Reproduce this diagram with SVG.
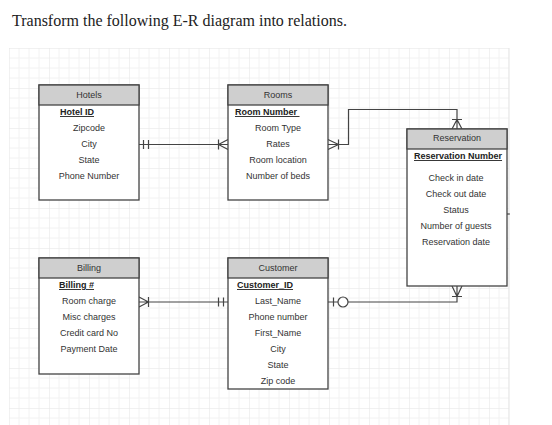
<svg xmlns="http://www.w3.org/2000/svg" width="552" height="425" viewBox="0 0 552 425">
<style>
.title{font-family:"Liberation Serif","Times New Roman",serif;font-size:16px;fill:#222}
.t{font-family:"Liberation Sans",Arial,sans-serif;font-size:9px;fill:#333;text-anchor:middle}
.k{font-family:"Liberation Sans",Arial,sans-serif;font-size:9px;fill:#222;font-weight:bold;text-decoration:underline}
.box{fill:#fff;stroke:#444;stroke-width:1.3}
.hd{fill:#cfcfcf;stroke:#444;stroke-width:1.3}
.c{fill:none;stroke:#444;stroke-width:1.2}
</style>
<defs>
<pattern id="grid" patternUnits="userSpaceOnUse" x="9" y="48" width="40" height="40">
<path d="M10 0V40M20 0V40M30 0V40M0 10H40M0 20H40M0 30H40" stroke="#f2f2f2" stroke-width="1" fill="none"/>
<path d="M0 0V40M0 0H40" stroke="#e4e4e4" stroke-width="1" fill="none"/>
</pattern>
</defs>
<rect width="552" height="425" fill="#fff"/>
<text class="title" x="12" y="26">Transform the following E-R diagram into relations.</text>
<rect x="9" y="48" width="500" height="377" fill="url(#grid)"/>
<line x1="509" y1="48" x2="509" y2="425" stroke="#e4e4e4"/>

<g id="connectors">
<!-- Hotels - Rooms -->
<path class="c" d="M139 144.5H228M143.5 140V149M148.5 140V149M218.5 139.5V149.5M218.5 144.5L228 139.5M218.5 144.5L228 149.5"/>
<!-- Rooms - Reservation -->
<path class="c" d="M328 144.5H348.5V109.5H457V129M338.5 139.5V149.5M338.5 144.5L328 139.5M338.5 144.5L328 149.5M452 119.5H462M457 119.5L452 129M457 119.5L462 129"/>
<!-- Billing - Customer -->
<path class="c" d="M139 302H228M148.5 297V307M148.5 302L139 297M148.5 302L139 307M218.5 297.5V306.5M223.5 297.5V306.5"/>
<!-- Customer - Reservation -->
<path class="c" d="M328 302H338M348 302H457V286M333.5 297.5V306.5M452 296.5H462M457 296.5L452 286M457 296.5L462 286"/>
<circle class="c" cx="343" cy="302" r="5"/>
<path class="c" d="M507 214H510"/>
</g>

<g id="hotels">
<rect class="box" x="39" y="85" width="100" height="115"/>
<rect class="hd" x="39" y="85" width="100" height="20"/>
<text class="t" x="89" y="98">Hotels</text>
<text class="k" x="60" y="115">Hotel ID</text>
<text class="t" x="89" y="131">Zipcode</text>
<text class="t" x="89" y="147">City</text>
<text class="t" x="89" y="163">State</text>
<text class="t" x="89" y="179">Phone Number</text>
</g>

<g id="rooms">
<rect class="box" x="228" y="85" width="100" height="115"/>
<rect class="hd" x="228" y="85" width="100" height="20"/>
<text class="t" x="278" y="98">Rooms</text>
<text class="k" x="235" y="115" xml:space="preserve">Room Number </text>
<text class="t" x="278" y="131">Room Type</text>
<text class="t" x="278" y="147">Rates</text>
<text class="t" x="278" y="163">Room location</text>
<text class="t" x="278" y="179">Number of beds</text>
</g>

<g id="reservation">
<rect class="box" x="407" y="129" width="100" height="157"/>
<rect class="hd" x="407" y="129" width="100" height="20"/>
<text class="t" x="457" y="141">Reservation</text>
<text class="k" x="414" y="159">Reservation Number</text>
<text class="t" x="456" y="181">Check in date</text>
<text class="t" x="456" y="197">Check out date</text>
<text class="t" x="456" y="213">Status</text>
<text class="t" x="456" y="229">Number of guests</text>
<text class="t" x="456" y="245">Reservation date</text>
</g>

<g id="billing">
<rect class="box" x="39" y="258" width="100" height="116"/>
<rect class="hd" x="39" y="258" width="100" height="20"/>
<text class="t" x="89" y="271">Billing</text>
<text class="k" x="59" y="288">Billing #</text>
<text class="t" x="89" y="304">Room charge</text>
<text class="t" x="89" y="320">Misc charges</text>
<text class="t" x="89" y="336">Credit card No</text>
<text class="t" x="89" y="352">Payment Date</text>
</g>

<g id="customer">
<rect class="box" x="228" y="258" width="100" height="131"/>
<rect class="hd" x="228" y="258" width="100" height="20"/>
<text class="t" x="278" y="271">Customer</text>
<text class="k" x="237" y="288">Customer_ID</text>
<text class="t" x="278" y="304">Last_Name</text>
<text class="t" x="278" y="320">Phone number</text>
<text class="t" x="278" y="336">First_Name</text>
<text class="t" x="278" y="352">City</text>
<text class="t" x="278" y="368">State</text>
<text class="t" x="278" y="384">Zip code</text>
</g>
</svg>
